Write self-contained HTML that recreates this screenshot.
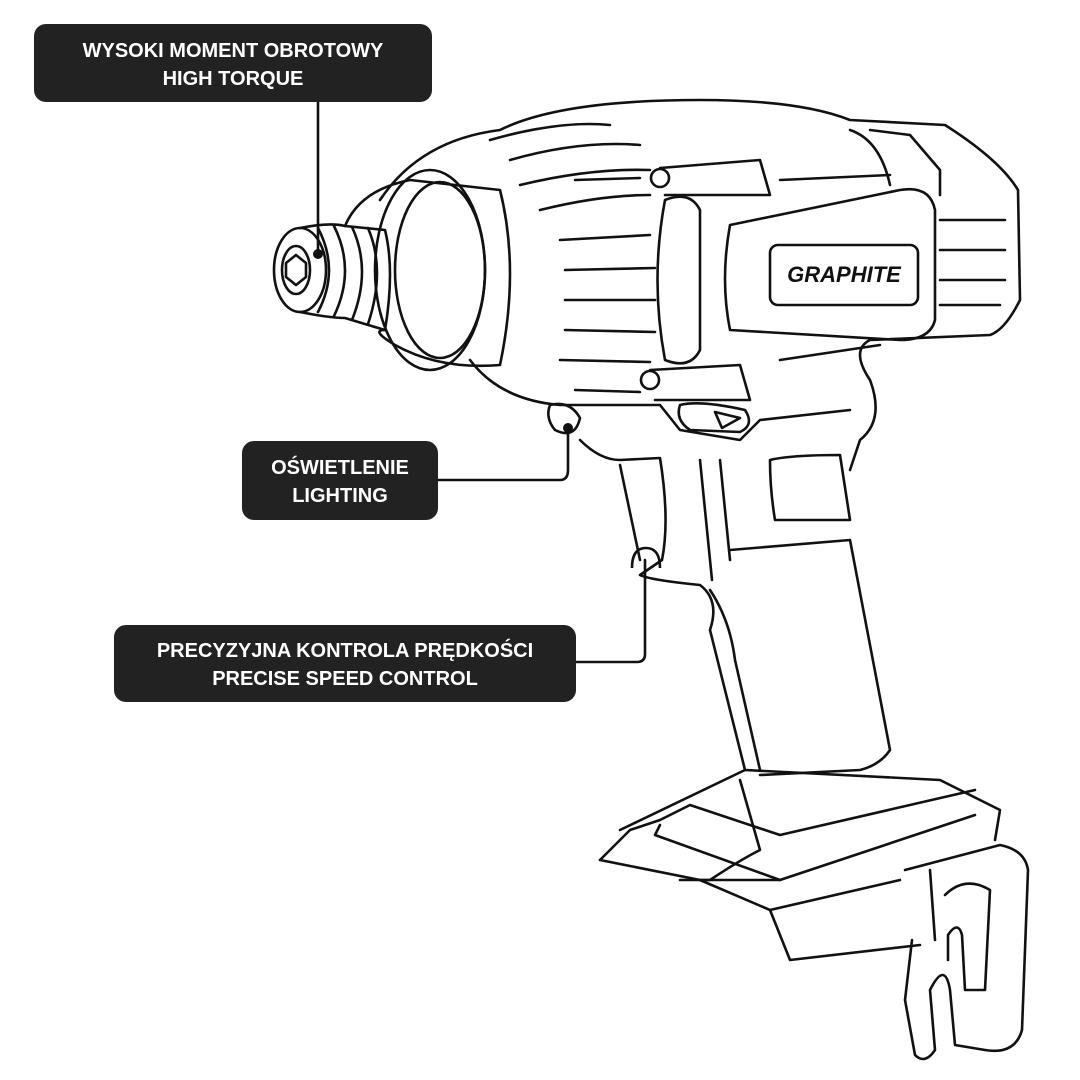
<!DOCTYPE html>
<html><head><meta charset="utf-8">
<style>
html,body{margin:0;padding:0;background:#fff;}
svg{display:block}
text{font-family:"Liberation Sans",sans-serif;font-weight:bold;fill:#fff;text-anchor:middle}
</style></head>
<body>
<svg width="1080" height="1080" viewBox="0 0 1080 1080" xmlns="http://www.w3.org/2000/svg">
<g fill="none" stroke="#111" stroke-width="2.6" stroke-linejoin="round" stroke-linecap="round">
<!-- chuck -->
<ellipse cx="300" cy="270" rx="26" ry="42"/>
<ellipse cx="296" cy="270" rx="14" ry="24"/>
<path d="M296 255 l10 8 v14 l-10 8 l-10 -8 v-14z"/>
<path d="M300 228 Q330 222 345 226 L385 230 Q395 270 385 330 L345 318 Q330 318 300 312"/>
<path d="M318 228 Q340 270 318 312 M334 226 Q356 270 334 316 M352 227 Q372 270 352 320 M368 228 Q386 270 368 324"/>
<!-- nose -->
<path d="M345 226 Q360 190 410 180 L500 190 Q520 270 500 365 Q440 370 395 345 Q370 330 385 330"/>
<ellipse cx="430" cy="270" rx="55" ry="100"/>
<ellipse cx="440" cy="270" rx="45" ry="88"/>
<!-- body outline -->
<path d="M380 200 Q420 140 500 130 Q560 100 700 100 Q800 100 850 120 L945 125 Q1000 160 1018 190 L1020 300 Q1005 330 990 335 L870 340 Q850 350 870 380 Q885 420 860 440 L850 470"/>
<path d="M470 360 Q500 400 560 405 L660 405 L680 430 L740 440 L760 420 L850 410"/>
<!-- top vents -->
<path d="M490 140 Q560 120 610 125 M510 160 Q580 140 640 145 M520 185 Q590 168 650 170 M540 210 Q600 195 650 195"/>
<path d="M560 240 L650 235 M565 270 L655 268 M565 300 L655 300 M565 330 L655 332 M560 360 L650 362"/>
<path d="M575 180 L640 178 M575 390 L640 392"/>
<circle cx="660" cy="178" r="9"/><circle cx="650" cy="380" r="9"/>
<path d="M660 168 L760 160 L770 195 L665 195 M650 370 L740 365 L750 400 L655 400"/>
<!-- side panel -->
<path d="M665 200 Q690 190 700 210 L700 350 Q690 370 665 360 Q650 280 665 200z"/>
<path d="M730 225 L900 190 Q930 185 935 210 L935 320 Q930 340 900 340 L730 330 Q720 280 730 225z"/>
<rect x="770" y="245" width="148" height="60" rx="8"/>
<path d="M850 130 Q880 140 890 185 M870 130 L910 135 L940 170 L940 195"/>
<path d="M940 220 L1005 220 M940 250 L1005 250 M940 280 L1005 280 M940 305 L1000 305"/>
<path d="M780 180 L890 175 M780 360 L880 345"/>
<!-- trigger -->
<path d="M680 405 Q700 400 745 410 Q755 425 740 432 L690 430 Q675 420 680 405z"/>
<path d="M715 412 L740 418 L722 428 z"/>
<!-- light -->
<path d="M550 405 Q570 400 580 418 Q575 440 555 430 Q545 418 550 405z"/>
<!-- handle -->
<path d="M580 440 Q600 460 620 460 L660 458 Q670 520 662 560 L640 575 Q650 580 700 585 Q720 600 710 630 L745 770"/>
<path d="M620 465 L640 560 M700 460 L712 580 M720 460 L730 560"/>
<path d="M730 550 L850 540 L890 750 Q880 765 860 770 L760 775"/>
<path d="M770 460 Q790 455 840 455 L850 520 L775 520 Q770 490 770 460z"/>
<path d="M710 590 Q730 620 735 660 L760 770"/>
<!-- battery -->
<path d="M620 830 L745 770 L940 780 L970 795 L1000 810 L995 840"/>
<path d="M600 860 Q620 840 630 830 L660 820 L690 805 L780 835 L975 790"/>
<path d="M660 825 L655 835 L780 880 L975 815"/>
<path d="M600 860 L700 880 L770 910 L790 960 L920 945"/>
<path d="M700 880 L780 880 M770 910 L900 880"/>
<path d="M740 780 L760 850 Q740 860 710 880 L680 880"/>
<!-- clip -->
<path d="M905 870 L1000 845 Q1025 850 1028 870 L1022 1030 Q1015 1055 985 1050 L955 1045 L950 990 Q945 960 930 990 L935 1050 Q925 1065 915 1055 L905 1000 L912 940"/>
<path d="M945 895 Q965 875 990 890 L985 990 L965 990 L962 935 Q958 920 948 935 L948 960"/>
<path d="M930 870 L935 940"/>
<!-- leader lines -->
<path d="M318 102 L318 252"/>
<path d="M438 480 L560 480 Q568 480 568 470 L568 428"/>
<path d="M576 662 L637 662 Q645 662 645 654 L645 560"/>
</g>
<circle cx="318" cy="254" r="5" fill="#111"/>
<circle cx="568" cy="428" r="5" fill="#111"/>
<path d="M632 568 Q632 548 646 548 Q660 548 660 568" fill="none" stroke="#111" stroke-width="2.6"/>
<rect x="34" y="24" width="398" height="78" rx="12" fill="#222"/>
<text x="233" y="57" font-size="20">WYSOKI MOMENT OBROTOWY</text>
<text x="233" y="85" font-size="20">HIGH TORQUE</text>
<rect x="242" y="441" width="196" height="79" rx="12" fill="#222"/>
<text x="340" y="474" font-size="20">OŚWIETLENIE</text>
<text x="340" y="502" font-size="20">LIGHTING</text>
<rect x="114" y="625" width="462" height="77" rx="12" fill="#222"/>
<text x="345" y="657" font-size="20">PRECYZYJNA KONTROLA PRĘDKOŚCI</text>
<text x="345" y="685" font-size="20">PRECISE SPEED CONTROL</text>
<text x="844" y="282" font-size="22" style="fill:#111;font-style:italic">GRAPHITE</text>
</svg>
</body></html>
